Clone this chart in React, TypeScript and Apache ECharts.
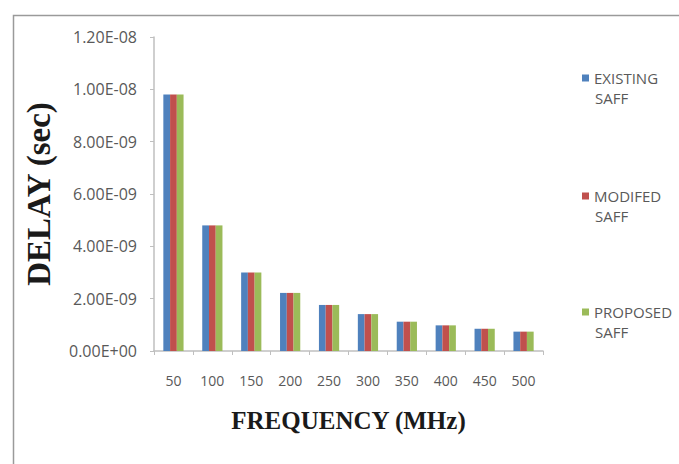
import React, { useEffect, useRef } from "react";
import * as echarts from "echarts";

const categories = ["50", "100", "150", "200", "250", "300", "350", "400", "450", "500"];
const existingSaff = [9.8e-9, 4.8e-9, 3.0e-9, 2.22e-9, 1.76e-9, 1.41e-9, 1.12e-9, 0.98e-9, 0.85e-9, 0.74e-9];
const modifiedSaff = [9.8e-9, 4.8e-9, 3.0e-9, 2.22e-9, 1.76e-9, 1.41e-9, 1.12e-9, 0.98e-9, 0.85e-9, 0.74e-9];
const proposedSaff = [9.8e-9, 4.8e-9, 3.0e-9, 2.22e-9, 1.76e-9, 1.41e-9, 1.12e-9, 0.98e-9, 0.85e-9, 0.74e-9];
const seriesNames = ["EXISTING SAFF", "MODIFED SAFF", "PROPOSED SAFF"];
const colors = ["#4F81BD", "#C0504D", "#9BBB59"];

function sci(v: number): string {
  const [m, e] = v.toExponential(2).split("e");
  const n = parseInt(e, 10);
  const sign = n < 0 ? "-" : "+";
  const abs = Math.abs(n);
  return `${m}E${sign}${abs < 10 ? "0" + abs : abs}`;
}

export default function App() {
  const ref = useRef<HTMLDivElement>(null);
  useEffect(() => {
    if (!ref.current) return;
    const chart = echarts.init(ref.current, undefined, { renderer: "svg" });
    const firstLineY = [78, 196, 312];
    chart.setOption({
      animation: false,
      backgroundColor: "#ffffff",
      grid: { left: 154, right: 136, top: 37, bottom: 113, containLabel: false },
      legend: seriesNames.map((name, i) => ({
        data: [name],
        orient: "vertical",
        left: 582,
        top: firstLineY[i] - 10,
        padding: 0,
        itemWidth: 7,
        itemHeight: 7,
        icon: "rect",
        formatter: (n: string) => n.split(" ")[0],
        textStyle: { fontFamily: "Open Sans", fontSize: 15, lineHeight: 20, color: "#595959" },
        selectedMode: false,
      })),
      graphic: [
        {
          type: "rect",
          left: 11,
          top: 13,
          shape: { width: 700, height: 480 },
          style: { fill: "none", stroke: "#9a9a9a", lineWidth: 1.5 },
          silent: true,
        },
        ...firstLineY.map((y) => ({
          type: "text",
          left: 595,
          top: y + 12,
          style: { text: "SAFF", fontFamily: "Open Sans", fontSize: 15, fill: "#595959" },
        })),
      ],
      xAxis: {
        type: "category",
        data: categories,
        name: "FREQUENCY (MHz)",
        nameLocation: "middle",
        nameGap: 57,
        nameTextStyle: { fontFamily: "Liberation Serif", fontWeight: "bold", fontSize: 25, color: "#1a1a1a" },
        axisLine: { lineStyle: { color: "#bfbfbf", width: 1.5 } },
        axisTick: { show: true, length: 4, lineStyle: { color: "#bfbfbf" } },
        axisLabel: { fontFamily: "Open Sans", fontSize: 14, color: "#595959", margin: 22 },
      },
      yAxis: {
        type: "value",
        min: 0,
        max: 1.2e-8,
        interval: 2e-9,
        name: "DELAY (sec)",
        nameLocation: "middle",
        nameRotate: 90,
        nameGap: 99,
        nameTextStyle: { fontFamily: "Liberation Serif", fontWeight: "bold", fontSize: 33, color: "#1a1a1a" },
        axisLine: { show: true, lineStyle: { color: "#bfbfbf", width: 1.5 } },
        axisTick: { show: true, length: 4, lineStyle: { color: "#bfbfbf" } },
        splitLine: { show: false },
        axisLabel: { fontFamily: "Open Sans", fontSize: 16, color: "#595959", margin: 17, formatter: (v: number) => sci(v) },
      },
      series: [existingSaff, modifiedSaff, proposedSaff].map((d, i) => ({
        name: seriesNames[i],
        type: "bar",
        data: d,
        barGap: "0%",
        barCategoryGap: "48%",
        itemStyle: { color: colors[i] },
      })),
    });
    return () => chart.dispose();
  }, []);
  return <div ref={ref} style={{ position: "fixed", left: 0, top: 0, width: 679, height: 464 }} />;
}
